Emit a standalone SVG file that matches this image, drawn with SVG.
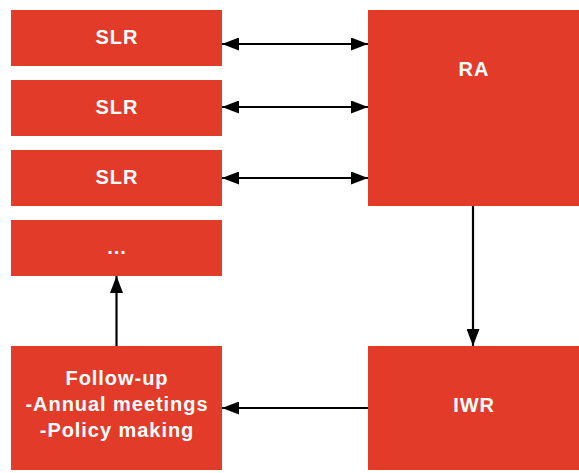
<svg xmlns="http://www.w3.org/2000/svg" width="579" height="473" viewBox="0 0 579 473">
  <style>
    .box { fill: #E33B29; }
    .lbl { fill: #FFFFFF; font-family: "Liberation Sans", Arial, Helvetica, sans-serif; font-weight: bold; font-size: 20px; text-anchor: middle; letter-spacing: 0.95px; }
    .edge { stroke: #000000; stroke-width: 2.2; fill: none; }
  </style>
  <defs>
    <marker id="head" viewBox="0 0 17 13" refX="17" refY="6.5" markerWidth="17" markerHeight="13" markerUnits="userSpaceOnUse" orient="auto-start-reverse">
      <path d="M0,0 L17,6.5 L0,13 Z" fill="#000000"/>
    </marker>
  </defs>
  <rect width="579" height="473" fill="#FFFFFF"/>

  <g id="slr1"><rect class="box" x="11" y="10" width="211" height="56"/><text class="lbl" x="117" y="44">SLR</text></g>
  <g id="slr2"><rect class="box" x="11" y="80" width="211" height="56"/><text class="lbl" x="117" y="114">SLR</text></g>
  <g id="slr3"><rect class="box" x="11" y="150" width="211" height="56"/><text class="lbl" x="117" y="184">SLR</text></g>
  <g id="more"><rect class="box" x="11" y="220" width="211" height="56"/><text class="lbl" x="117" y="254">...</text></g>
  <g id="followup">
    <rect class="box" x="11" y="346" width="211" height="124"/>
    <text class="lbl" x="117" y="385">Follow-up</text>
    <text class="lbl" x="117" y="411">-Annual meetings</text>
    <text class="lbl" x="117" y="437">-Policy making</text>
  </g>
  <g id="ra"><rect class="box" x="368" y="10" width="211" height="196"/><text class="lbl" x="474" y="76">RA</text></g>
  <g id="iwr"><rect class="box" x="368" y="346" width="211" height="124"/><text class="lbl" x="474" y="412">IWR</text></g>

  <g id="connectors">
    <line class="edge" x1="222" y1="44" x2="368" y2="44" marker-start="url(#head)" marker-end="url(#head)"/>
    <line class="edge" x1="222" y1="107" x2="368" y2="107" marker-start="url(#head)" marker-end="url(#head)"/>
    <line class="edge" x1="222" y1="178" x2="368" y2="178" marker-start="url(#head)" marker-end="url(#head)"/>
    <line class="edge" x1="473" y1="206" x2="473" y2="346" marker-end="url(#head)"/>
    <line class="edge" x1="368" y1="408" x2="222" y2="408" marker-end="url(#head)"/>
    <line class="edge" x1="116.5" y1="346" x2="116.5" y2="276" marker-end="url(#head)"/>
  </g>
</svg>
